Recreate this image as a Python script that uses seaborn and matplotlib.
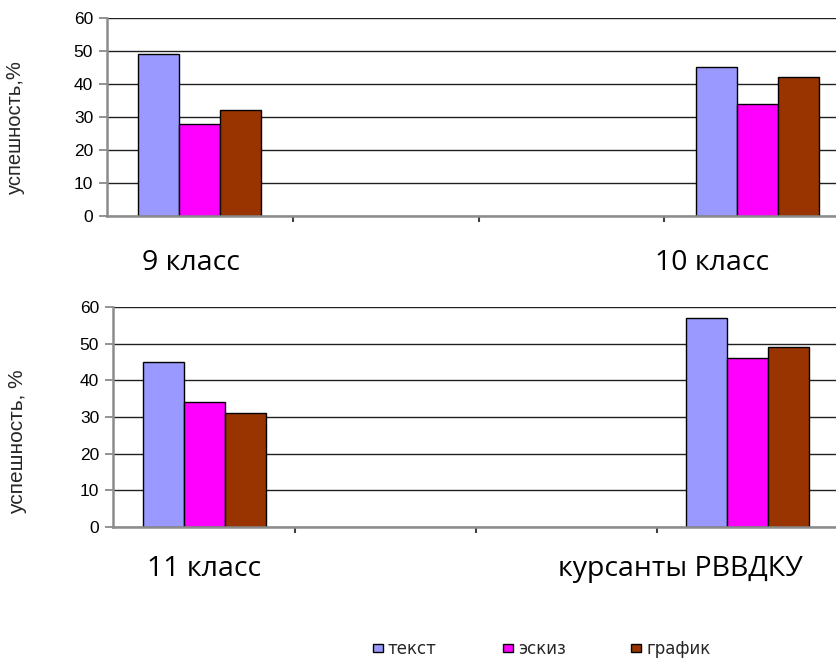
import matplotlib
matplotlib.use("Agg")
import matplotlib.pyplot as plt
import seaborn as sns
import pandas as pd

# ---- data ----
series = ["текст", "эскиз", "график"]
colors = ["#9999FF", "#FF00FF", "#993300"]

top_categories = ["9 класс", "10 класс"]
top_text = [49, 45]
top_sketch = [28, 34]
top_graph = [32, 42]

bottom_categories = ["11 класс", "курсанты РВВДКУ"]
bottom_text = [45, 57]
bottom_sketch = [34, 46]
bottom_graph = [31, 49]

y_ticks = [0, 10, 20, 30, 40, 50, 60]
ylabel_top = "успешность,%"
ylabel_bottom = "успешность, %"


def long_frame(cats, a, b, c):
    rows = []
    for i, cat in enumerate(cats):
        for s, vals in zip(series, [a, b, c]):
            rows.append({"группа": cat, "тип": s, "значение": vals[i]})
    return pd.DataFrame(rows)


df_top = long_frame(top_categories, top_text, top_sketch, top_graph)
df_bottom = long_frame(bottom_categories, bottom_text, bottom_sketch, bottom_graph)

sns.set_theme(style="white")
plt.rcParams["font.family"] = ["Liberation Sans", "DejaVu Sans"]

W, H = 836, 662
fig = plt.figure(figsize=(W / 100, H / 100), dpi=100)


def px_axes(left, top, right, bottom):
    return fig.add_axes([left / W, 1 - bottom / H, (right - left) / W, (bottom - top) / H])


ax1 = px_axes(107, 18, 836, 216)
ax2 = px_axes(113, 307, 836, 527)

pal = dict(zip(series, colors))


def draw(ax, df, cats, width, xlim, ylabel, ylab_size, ylab_xy, legend):
    sns.barplot(data=df, x="группа", y="значение", hue="тип", order=cats,
                hue_order=series, palette=pal, width=width, errorbar=None,
                edgecolor="black", linewidth=1.0, saturation=1.0, ax=ax,
                legend=legend)
    ax.set_xlim(*xlim)
    ax.set_ylim(0, 60)
    ax.set_yticks(y_ticks)
    ax.set_yticklabels([str(t) for t in y_ticks], fontsize=12.5)
    ax.set_xticks([1 / 6, 1 / 2, 5 / 6])
    ax.set_xticklabels([])
    ax.tick_params(axis="x", direction="out", length=4, width=1.5, color="#404040", bottom=True)
    ax.tick_params(axis="y", direction="out", length=6, width=1.2, color="#808080", left=True,
                   pad=4, labelcolor="black")
    ax.set_axisbelow(True)
    ax.yaxis.grid(True, color="#202020", linewidth=1.0)
    ax.xaxis.grid(False)
    for side in ["top", "right"]:
        ax.spines[side].set_visible(False)
    for side in ["left", "bottom"]:
        ax.spines[side].set_color("#8c8c8c")
        ax.spines[side].set_linewidth(1.8)
    ax.set_xlabel("")
    ax.set_ylabel(ylabel, fontsize=ylab_size)
    ax.yaxis.set_label_coords(*ylab_xy)
    if ax.get_legend() is not None:
        ax.get_legend().remove()


draw(ax1, df_top, top_categories, 0.22, (-0.1658, 1.1407), ylabel_top, 14.5, (-0.112, 0.45), True)
draw(ax2, df_bottom, bottom_categories, 0.2265, (-0.1685, 1.163), ylabel_bottom, 15, (-0.119, 0.39), False)

big_font = dict(fontsize=20.5, family=["Open Sans", "DejaVu Sans"], color="black")
fig.text(142 / W, 1 - 270 / H, top_categories[0], ha="left", va="baseline", **big_font)
fig.text(655 / W, 1 - 270 / H, top_categories[1], ha="left", va="baseline", **big_font)
fig.text(147 / W, 1 - 576 / H, bottom_categories[0], ha="left", va="baseline", **big_font)
fig.text(558 / W, 1 - 576 / H, bottom_categories[1], ha="left", va="baseline", **big_font)

handles, labels = ax1.get_legend_handles_labels()
if not handles:
    from matplotlib.patches import Patch
    handles = [Patch(facecolor=c, edgecolor="black") for c in colors]
    labels = series
leg = fig.legend(handles, labels, loc="center left", bbox_to_anchor=(373 / W, 1 - 649 / H),
                 ncol=3, frameon=False, handlelength=0.6, handleheight=0.3,
                 handletextpad=0.3, columnspacing=3.95, borderaxespad=0, borderpad=0,
                 prop={"family": ["DejaVu Sans"], "size": 12})

fig.savefig("out.png", dpi=100, facecolor="white")
